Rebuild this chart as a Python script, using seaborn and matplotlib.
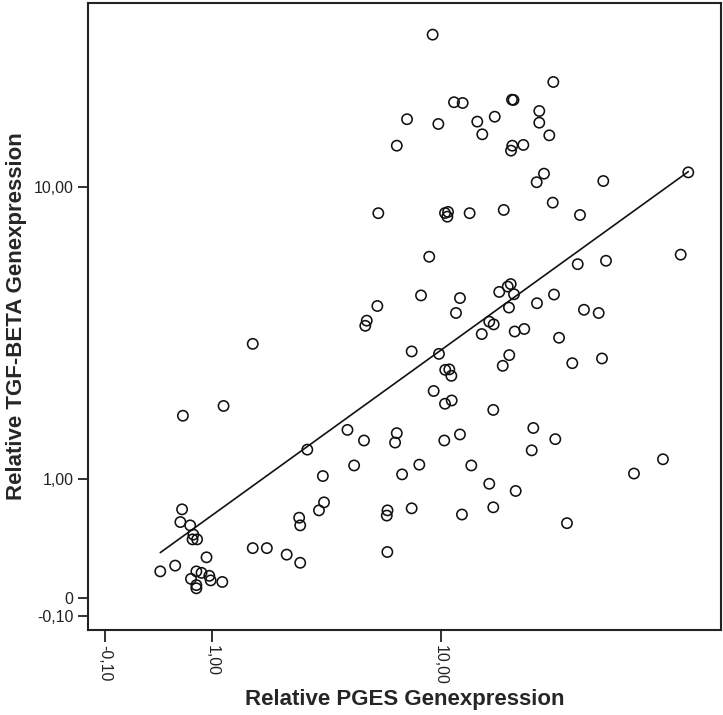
import numpy as np
import pandas as pd
import matplotlib
matplotlib.use("Agg")
import matplotlib.pyplot as plt
import seaborn as sns

# Relative gene expression per sample
pges = [
    0.60, 0.58, 0.70, 0.74, 0.73, 0.79, 0.36, 0.52, 0.92, 0.78,
    0.85, 0.71, 0.96, 0.98, 0.78, 0.78, 1.16, 0.61, 1.18, 1.71,
    3.07, 3.57, 3.61, 3.44, 2.83, 2.86, 1.71, 2.01, 2.49, 2.86,
    4.49, 4.77, 5.21, 6.93, 6.83, 10.30, 11.70, 20.94, 20.68, 24.85,
    7.25, 8.38, 12.82, 14.80, 18.24, 45.47, 56.68, 6.40, 6.36, 7.86,
    11.89, 15.28, 27.20, 6.39, 9.10, 5.86, 5.34, 5.27, 8.50, 11.70,
    11.33, 16.02, 17.13, 17.54, 18.00, 17.30, 14.80, 15.33, 13.94, 21.55,
    24.60, 29.55, 36.72, 64.82, 31.01, 34.72, 18.10, 19.51, 25.58, 7.86,
    9.86, 17.34, 16.47, 28.34, 35.61, 10.38, 10.73, 10.91, 9.44, 10.36,
    10.94, 15.28, 9.36, 24.47, 11.15, 11.96, 17.72, 17.93, 7.56, 9.81,
    13.45, 15.46, 21.94, 21.94, 14.00, 23.72, 6.93, 17.76, 17.58, 19.37,
    22.76, 21.50, 35.97, 68.66, 5.91, 10.36, 10.62, 10.56, 12.65, 16.60,
    24.36, 30.07,
]
tgfb = [
    0.68, 0.56, 0.53, 0.45, 0.41, 0.41, 0.17, 0.21, 0.27, 0.17,
    0.16, 0.12, 0.14, 0.11, 0.08, 0.06, 0.10, 1.90, 2.07, 3.41,
    1.38, 1.04, 0.75, 0.67, 0.60, 0.53, 0.34, 0.34, 0.29, 0.23,
    1.67, 1.17, 1.51, 1.62, 1.48, 1.51, 1.60, 1.70, 1.37, 1.53,
    1.06, 1.18, 1.17, 0.95, 0.87, 1.07, 1.25, 0.67, 0.62, 0.69,
    0.63, 0.70, 0.55, 0.31, 6.33, 4.50, 4.05, 3.90, 4.85, 4.76,
    4.28, 4.97, 5.16, 5.25, 4.89, 4.45, 4.02, 3.94, 3.67, 4.59,
    4.88, 6.02, 6.16, 6.42, 4.38, 4.28, 3.74, 3.81, 3.57, 3.22,
    3.16, 3.13, 2.88, 2.94, 3.05, 2.79, 2.80, 2.66, 2.35, 2.11,
    2.17, 2.00, 25.77, 19.31, 17.05, 16.97, 17.32, 17.29, 15.35, 14.90,
    15.12, 15.59, 16.15, 15.02, 13.97, 13.88, 13.01, 13.01, 12.61, 13.07,
    10.90, 10.32, 10.40, 10.99, 8.45, 8.46, 8.52, 8.26, 8.45, 8.63,
    9.05, 8.35,
]

x_ticks = [-0.10, 1.00, 10.00]
x_tick_labels = ["-0,10", "1,00", "10,00"]
y_ticks = [-0.10, 0.0, 1.00, 10.00]
y_tick_labels = ["-0,10", "0", "1,00", "10,00"]

df = pd.DataFrame({"PGES": pges, "TGFB": tgfb})


def fwd(v):
    return np.log10(np.clip(np.asarray(v, dtype=float) + 1.0, 1e-9, None))


def inv(v):
    return 10.0 ** np.asarray(v, dtype=float) - 1.0


sns.set_style("white")
plt.rcParams["font.family"] = ["Liberation Sans", "DejaVu Sans"]

fig = plt.figure(figsize=(7.23, 7.15), dpi=100)
ax = fig.add_axes([88 / 723, 85 / 715, 633 / 723, 627 / 715])

ax.set_xscale("function", functions=(fwd, inv))
ax.set_yscale("function", functions=(fwd, inv))

sns.scatterplot(data=df, x="PGES", y="TGFB", ax=ax, s=55,
                marker="o", edgecolor="#111111", linewidth=1.15,
                legend=False, zorder=3)
for coll in ax.collections:
    coll.set_facecolor("none")

# Least-squares fit in log(1 + value) space
lx = fwd(df["PGES"])
ly = fwd(df["TGFB"])
slope, intercept = np.polyfit(lx, ly, 1)
xs = np.array([lx.min(), lx.max()])
ax.plot(inv(xs), inv(intercept + slope * xs), color="#111111", lw=1.2, zorder=2)

ax.set_xlim(inv(-0.1004), inv(1.9489))
ax.set_ylim(inv(-0.0803), inv(1.5078))

ax.set_xticks(x_ticks)
ax.set_xticklabels(x_tick_labels, rotation=270, fontsize=11.5, color="#222222")
ax.set_yticks(y_ticks)
ax.set_yticklabels(y_tick_labels, fontsize=11.5, color="#222222")
ax.minorticks_off()
ax.tick_params(axis="x", which="major", direction="out", length=8.5, width=1.3,
               color="#222222", pad=2, bottom=True)
ax.tick_params(axis="y", which="major", direction="out", length=7.5, width=1.3,
               color="#222222", pad=3, left=True)

for side in ["left", "right", "top", "bottom"]:
    ax.spines[side].set_visible(True)
    ax.spines[side].set_color("#222222")
    ax.spines[side].set_linewidth(1.5)

ax.set_xlabel("Relative PGES Genexpression", fontsize=16, fontweight="bold",
              va="center")
ax.set_ylabel("Relative TGF-BETA Genexpression", fontsize=16, fontweight="bold",
              va="center", ha="center")
ax.xaxis.set_label_coords(0.5, -0.1116)
ax.yaxis.set_label_coords(-0.1122, 0.5)

fig.savefig("out.png", dpi=100, facecolor="white")
